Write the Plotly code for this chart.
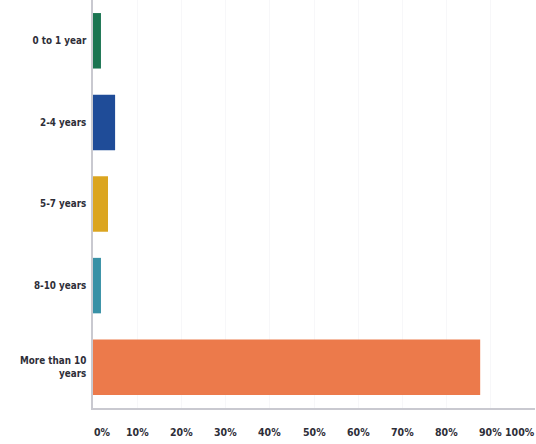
import plotly.graph_objects as go

# Years of experience distribution (share of respondents, %)
categories = ["0 to 1 year", "2-4 years", "5-7 years", "8-10 years", "More than 10 years"]
category_labels = ["0 to 1 year", "2-4 years", "5-7 years", "8-10 years", "More than 10<br>years"]
shares = [1.8, 5.0, 3.4, 1.8, 87.6]
bar_colors = ["#1b7552", "#1f4c98", "#dba520", "#3891a6", "#ec7a4b"]
x_ticks = [0, 10, 20, 30, 40, 50, 60, 70, 80, 90, 100]
x_tick_labels = [f"{v}%" for v in x_ticks]

TEXT = "#2e2e38"
FONT = "DejaVu Sans Condensed"

fig = go.Figure(
    go.Bar(
        x=shares,
        y=categories,
        orientation="h",
        marker=dict(color=bar_colors, line=dict(width=0)),
        width=0.68,
        hoverinfo="skip",
    )
)

# x tick labels: end labels nudged inward so they stay inside the frame
shift = {0: 9, 100: -15}
annotations = [
    dict(
        x=v, y=0, xref="x", yref="paper",
        text=t, showarrow=False,
        xanchor="center", yanchor="middle",
        yshift=-24, xshift=shift.get(v, 0),
        font=dict(family=FONT, size=10.5, color=TEXT, weight="bold"),
    )
    for v, t in zip(x_ticks, x_tick_labels)
]

fig.update_layout(
    width=536, height=444,
    margin=dict(l=93, r=1, t=0, b=36),
    paper_bgcolor="white", plot_bgcolor="white",
    showlegend=False,
    annotations=annotations,
    xaxis=dict(
        range=[0, 100],
        tickvals=x_ticks,
        showticklabels=False,
        showgrid=True, gridcolor="#f7f7f9", gridwidth=1,
        zeroline=False,
        showline=True, linecolor="#c9c9d0", linewidth=1.5,
        fixedrange=True,
    ),
    yaxis=dict(
        autorange="reversed",
        tickvals=categories,
        ticktext=category_labels,
        tickfont=dict(family=FONT, size=9.8, color=TEXT, weight="bold"),
        ticks="", ticklabelstandoff=3,
        showgrid=False, zeroline=False,
        showline=True, linecolor="#c9c9d0", linewidth=1.5,
        fixedrange=True,
    ),
    bargap=0.32,
)

fig.write_html("out.html")
